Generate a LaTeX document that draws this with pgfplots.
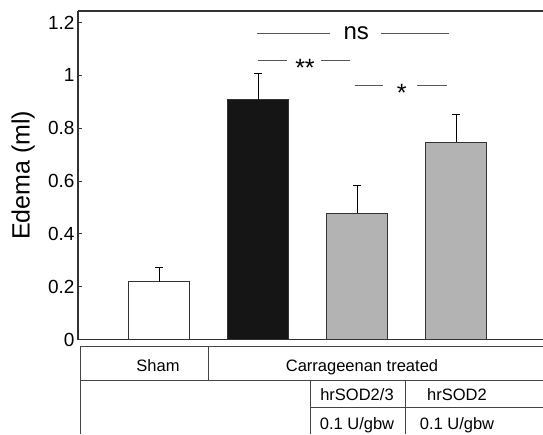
\documentclass[border=0pt]{standalone}
\usepackage{fontspec}
\setmainfont{Liberation Sans}
\usepackage{pgfplots}
\pgfplotsset{compat=1.18}
\definecolor{barblack}{HTML}{151515}
\definecolor{bargray}{HTML}{B3B3B3}
\definecolor{edge}{HTML}{333333}
\definecolor{sig}{HTML}{555555}
\definecolor{tab}{HTML}{444444}
\begin{document}
\begin{tikzpicture}
\begin{axis}[
  scale only axis, width=465pt, height=328.5pt,
  xmin=-0.823, xmax=3.874, ymin=0, ymax=1.244,
  axis x line*=bottom, axis y line*=left,
  x axis line style={line width=1.6pt, color=edge, -},
  y axis line style={line width=1.2pt, color=edge, -},
  xtick=\empty,
  ytick={0,0.2,0.4,0.6,0.8,1,1.2},
  tick align=inside, major tick length=4pt,
  ytick style={line width=0.8pt, color=edge},
  /pgf/number format/assume math mode=true,
  yticklabel style={font=\fontsize{19}{21}\selectfont, /pgf/number format/fixed},
  ylabel={Edema (ml)},
  ylabel style={at={(axis description cs:-0.118,0.5)}, anchor=center, font=\fontsize{25}{27}\selectfont},
  clip=false,
  ybar, bar width=61pt, bar shift=0pt,
  error bars/y dir=plus, error bars/y explicit,
  error bars/error bar style={line width=1.3pt, color=black},
  error bars/error mark options={rotate=90, mark size=4pt, line width=1.3pt, color=black},
]
\addplot[fill=white, draw=edge, line width=1pt] coordinates {(0,0.218) +- (0,0.054)};
\addplot[fill=barblack, draw=edge, line width=1pt] coordinates {(1,0.907) +- (0,0.099)};
\addplot[fill=bargray, draw=edge, line width=1pt] coordinates {(2,0.478) +- (0,0.106)};
\addplot[fill=bargray, draw=edge, line width=1pt] coordinates {(3,0.747) +- (0,0.106)};
\draw[line width=1.2pt, edge] (rel axis cs:0,1) -- (rel axis cs:1,1);
\coordinate (o) at (rel axis cs:0,1);
% significance
\draw[sig, line width=1pt] (axis cs:0.985,1.16) -- (axis cs:1.72,1.16);
\draw[sig, line width=1pt] (axis cs:2.24,1.16) -- (axis cs:2.92,1.16);
\node[font=\fontsize{24}{26}\selectfont] at (axis cs:1.987,1.16) {ns};
\draw[sig, line width=1pt] (axis cs:0.995,1.056) -- (axis cs:1.29,1.056);
\draw[sig, line width=1pt] (axis cs:1.63,1.056) -- (axis cs:1.925,1.056);
\draw[sig, line width=1pt] (axis cs:1.975,0.960) -- (axis cs:2.26,0.960);
\draw[sig, line width=1pt] (axis cs:2.60,0.960) -- (axis cs:2.905,0.960);
\end{axis}
\begin{scope}[shift={(o)}, xshift=-78pt, yshift=11pt, x=1pt, y=-1pt]
\node[font=\fontsize{25}{27}\selectfont, anchor=base] at (305,77) {**};
\node[font=\fontsize{25}{27}\selectfont, anchor=base] at (401.7,102) {*};
\begin{scope}[tab, line width=0.9pt]
\draw (80,346.7) -- (543,346.7);
\draw (80,380) -- (543,380);
\draw (310,407.3) -- (543,407.3);
\draw (80,346.7) -- (80,434);
\draw (208.7,346.7) -- (208.7,380);
\draw (310,380) -- (310,434);
\draw (405,380) -- (405,434);
\end{scope}
\begin{scope}[font=\fontsize{16.5}{18}\selectfont]
\node[anchor=base] at (158,371.7) {Sham};
\node[anchor=base] at (362,371.7) {Carrageenan treated};
\node[anchor=base] at (357,400) {hrSOD2/3};
\node[anchor=base] at (457,400) {hrSOD2};
\node[anchor=base] at (357,429.3) {0.1 U/gbw};
\node[anchor=base] at (457,429.3) {0.1 U/gbw};
\end{scope}
\end{scope}
\pgfresetboundingbox
\path ([shift={(-78pt,11pt)}]o) rectangle ([shift={(465pt,-423pt)}]o);
\end{tikzpicture}
\end{document}
